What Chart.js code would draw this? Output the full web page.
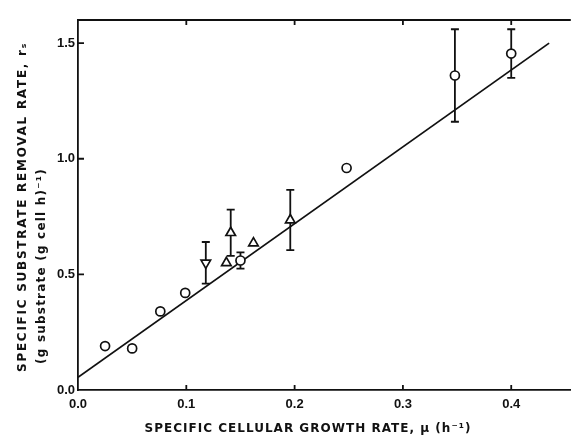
<!DOCTYPE html>
<html>
<head>
<meta charset="utf-8">
<script src="https://cdn.jsdelivr.net/npm/chart.js@4"></script>
<style>
  html, body { margin: 0; padding: 0; background: #fff; }
  #wrap { width: 578px; height: 438px; }
</style>
</head>
<body>
<div id="wrap"><canvas id="chart" width="578" height="438"></canvas></div>
<script>
// data
const circX   = [0.025, 0.05, 0.076, 0.099, 0.150, 0.248, 0.348, 0.400];
const circY   = [0.19,  0.18, 0.34,  0.42,  0.56,  0.96,  1.36,  1.455];
const circErr = [0,     0,    0,     0,     0.035, 0,     0.20,  0.105];

const triX   = [0.137, 0.141, 0.162, 0.196];
const triY   = [0.55,  0.68,  0.635, 0.735];
const triErr = [0,     0.10,  0,     0.13];

const invX   = [0.118];
const invY   = [0.55];
const invErr = [0.09];

const fitX = [0, 0.435];
const fitY = [0.055, 1.50];

const xTicks = [0, 0.1, 0.2, 0.3, 0.4];
const yTicks = [0, 0.5, 1.0, 1.5];

const xTitle = 'SPECIFIC CELLULAR GROWTH RATE, \u03BC (h\u207B\u00B9)';
const yTitle1 = 'SPECIFIC SUBSTRATE REMOVAL RATE, r\u209B';
const yTitle2 = '(g substrate (g cell h)\u207B\u00B9)';

const pts = (xs, ys) => xs.map((x, i) => ({ x: x, y: ys[i] }));
const INK = '#111';

// vertical error bars, drawn under the markers
const errorBars = {
  id: 'errorBars',
  beforeDatasetsDraw(chart) {
    const ctx = chart.ctx;
    const xs = chart.scales.x, ys = chart.scales.y;
    ctx.save();
    ctx.strokeStyle = INK;
    ctx.lineWidth = 1.8;
    chart.data.datasets.forEach(ds => {
      if (!ds.err) return;
      ds.data.forEach((p, i) => {
        const e = ds.err[i];
        if (!e) return;
        const px = xs.getPixelForValue(p.x);
        const top = ys.getPixelForValue(p.y + e);
        const bot = ys.getPixelForValue(p.y - e);
        ctx.beginPath();
        ctx.moveTo(px, top); ctx.lineTo(px, bot);
        ctx.moveTo(px - 4, top); ctx.lineTo(px + 4, top);
        ctx.moveTo(px - 4, bot); ctx.lineTo(px + 4, bot);
        ctx.stroke();
      });
    });
    ctx.restore();
  }
};

// inward ticks, top frame line and the axis titles
const frame = {
  id: 'frame',
  afterDraw(chart) {
    const ctx = chart.ctx;
    const a = chart.chartArea;
    const xs = chart.scales.x, ys = chart.scales.y;
    ctx.save();
    ctx.strokeStyle = INK;
    ctx.lineWidth = 1.8;
    ctx.beginPath();
    ctx.moveTo(a.left, a.top); ctx.lineTo(a.right, a.top);
    xTicks.slice(1).forEach(v => {
      const px = xs.getPixelForValue(v);
      ctx.moveTo(px, a.bottom); ctx.lineTo(px, a.bottom - 5);
      ctx.moveTo(px, a.top); ctx.lineTo(px, a.top + 5);
    });
    yTicks.slice(1).forEach(v => {
      const py = ys.getPixelForValue(v);
      ctx.moveTo(a.left, py); ctx.lineTo(a.left + 6, py);
    });
    ctx.stroke();

    ctx.fillStyle = INK;
    ctx.textAlign = 'center';
    ctx.textBaseline = 'middle';
    const fit = (txt, w) => {
      ctx.letterSpacing = '0px';
      const n = [...txt].length;
      const m = ctx.measureText(txt).width;
      ctx.letterSpacing = ((w - m) / n).toFixed(2) + 'px';
    };
    ctx.font = 'bold 12px "DejaVu Sans", sans-serif';
    fit(xTitle, 327);
    ctx.fillText(xTitle, 308, 429);

    ctx.save();
    ctx.translate(23, 207);
    ctx.rotate(-Math.PI / 2);
    fit(yTitle1, 330);
    ctx.fillText(yTitle1, 0, 0);
    ctx.restore();

    ctx.save();
    ctx.translate(42, 266);
    ctx.rotate(-Math.PI / 2);
    fit(yTitle2, 196);
    ctx.fillText(yTitle2, 0, 0);
    ctx.restore();
    ctx.restore();
  }
};

const marker = {
  borderColor: INK,
  backgroundColor: '#fff',
  borderWidth: 1.7,
  showLine: false
};

new Chart(document.getElementById('chart'), {
  type: 'scatter',
  data: {
    datasets: [
      {
        type: 'line',
        data: pts(fitX, fitY),
        borderColor: INK,
        borderWidth: 1.8,
        pointRadius: 0,
        fill: false,
        order: 5
      },
      Object.assign({ data: pts(circX, circY), err: circErr, pointStyle: 'circle', pointRadius: 4.5 }, marker),
      Object.assign({ data: pts(triX, triY), err: triErr, pointStyle: 'triangle', pointRadius: 5.5 }, marker),
      Object.assign({ data: pts(invX, invY), err: invErr, pointStyle: 'triangle', rotation: 180, pointRadius: 5.5 }, marker)
    ]
  },
  options: {
    responsive: false,
    animation: false,
    layout: { padding: { top: 20, right: 0, left: 0, bottom: 0 } },
    plugins: { legend: { display: false }, tooltip: { enabled: false } },
    scales: {
      x: {
        type: 'linear',
        min: 0,
        max: 0.455,
        afterBuildTicks: s => { s.ticks = xTicks.map(v => ({ value: v })); },
        afterFit: s => { s.height = 48; },
        grid: { drawOnChartArea: false, drawTicks: false },
        border: { display: true, color: INK, width: 1.8 },
        ticks: {
          padding: 7,
          color: INK,
          font: { family: '"Liberation Sans", sans-serif', size: 13, weight: 'bold' },
          callback: v => v.toFixed(1)
        }
      },
      y: {
        type: 'linear',
        min: 0,
        max: 1.6,
        afterBuildTicks: s => { s.ticks = yTicks.map(v => ({ value: v })); },
        afterFit: s => { s.width = 78; },
        grid: { drawOnChartArea: false, drawTicks: false },
        border: { display: true, color: INK, width: 1.8 },
        ticks: {
          padding: 3,
          color: INK,
          font: { family: '"Liberation Sans", sans-serif', size: 13, weight: 'bold' },
          callback: v => v.toFixed(1)
        }
      }
    }
  },
  plugins: [errorBars, frame]
});
</script>
</body>
</html>
